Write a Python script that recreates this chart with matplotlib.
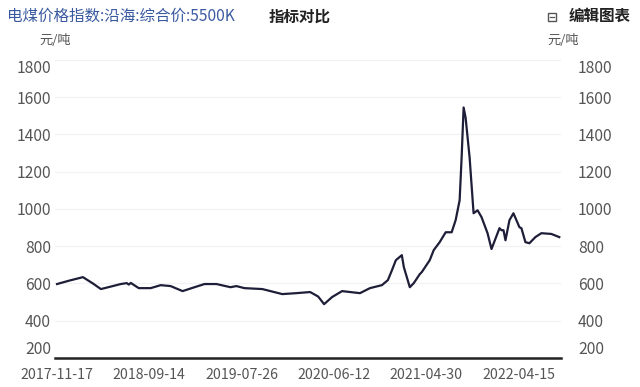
#!/usr/bin/env python3
# -*- coding: utf-8 -*-

# Coastal thermal coal price index (5500K), weekly, redrawn from a screenshot

import matplotlib
matplotlib.use('Agg')
import matplotlib.pyplot as plt
from matplotlib.patches import Rectangle
from matplotlib.lines import Line2D

plt.rcParams['font.family'] = ['Noto Sans CJK SC', 'DejaVu Sans']

title = '电煤价格指数:沿海:综合价:5500K'
unit = '元/吨'

# week index along the category axis, and the price in yuan per ton
weeks = [0, 6, 13, 18, 22, 25, 32, 35, 36, 37, 41, 47, 52, 57, 63, 69, 74,
         80, 87, 90, 94, 103, 113, 120, 127, 131, 134, 138, 143, 152, 157,
         163, 166, 168, 170, 173, 174, 177, 179, 182, 183, 187, 189, 192,
         195, 198, 200, 202, 203, 204, 205, 207, 209, 211, 213, 216, 218,
         222, 223, 224, 225, 227, 229, 232, 233, 235, 237, 240, 243, 248, 252]
prices = [597, 615, 634, 600, 570, 578, 597, 602, 594, 603, 575, 575, 591,
          586, 559, 580, 597, 597, 580, 586, 575, 570, 543, 548, 554, 530,
          489, 527, 559, 548, 575, 591, 618, 670, 725, 752, 688, 580, 602,
          650, 661, 725, 779, 822, 875, 875, 940, 1047, 1277, 1545, 1490,
          1277, 977, 993, 956, 870, 785, 897, 886, 886, 832, 940, 977, 902,
          897, 822, 816, 849, 870, 866, 849]

tick_pos = [0, 46, 93, 139, 185, 232]
tick_labels = ['2017-11-17', '2018-09-14', '2019-07-26', '2020-06-12',
               '2021-04-30', '2022-04-15']
y_ticks = [200, 400, 600, 800, 1000, 1200, 1400, 1600, 1800]

fig = plt.figure(figsize=(6.4, 3.87), dpi=100)
ax = fig.add_axes([0.086, 0.075, 0.791, 0.77])

ax.plot(weeks, prices, color='#1e1e38', linewidth=1.6)

ax.set_xlim(-1, 253)
ax.set_ylim(200, 1800)
ax.set_yticks(y_ticks)
ax.set_xticks(tick_pos)
ax.set_xticklabels(tick_labels, fontsize=10.2, color='#555555')
ax.grid(axis='y', color='#f2f2f4', linewidth=0.9)
ax.set_axisbelow(True)

for side in ['left', 'right', 'top']:
  ax.spines[side].set_visible(False)
ax.spines['bottom'].set_color('#222222')
ax.spines['bottom'].set_linewidth(1.8)
ax.tick_params(axis='x', length=0, pad=7)
ax.tick_params(axis='y', length=0, labelsize=11.3, labelcolor='#555555', pad=3)

# same scale on the right side
ax2 = ax.twinx()
ax2.set_ylim(ax.get_ylim())
ax2.set_yticks(y_ticks)
for side in ['left', 'right', 'top', 'bottom']:
  ax2.spines[side].set_visible(False)
ax2.tick_params(axis='y', length=0, labelsize=11.3, labelcolor='#555555', pad=12)

# end labels are pulled inside the plot area
for a in [ax, ax2]:
  labels = a.get_yticklabels()
  labels[0].set_va('bottom')
  labels[-1].set_va('top')

fig.text(0.011, 0.958, title, fontsize=11.2, color='#3a5aa0', va='center')
fig.text(0.419, 0.958, '指标对比', fontsize=11.2, color='#222222',
         fontweight='bold', va='center')
fig.text(0.986, 0.958, '编辑图表', fontsize=11.2, color='#222222',
         fontweight='bold', va='center', ha='right')
# small "edit" icon before the text
fig.patches.append(Rectangle((0.857, 0.946), 0.011, 0.021, fill=False,
                             edgecolor='#555555', linewidth=1,
                             transform=fig.transFigure))
fig.lines.append(Line2D([0.859, 0.866], [0.957, 0.957], color='#555555',
                        linewidth=0.9, transform=fig.transFigure))
fig.text(0.062, 0.895, unit, fontsize=9.5, color='#555555', va='center')
fig.text(0.856, 0.895, unit, fontsize=9.5, color='#555555', va='center')

fig.savefig('out.png', dpi=100, facecolor='white')
